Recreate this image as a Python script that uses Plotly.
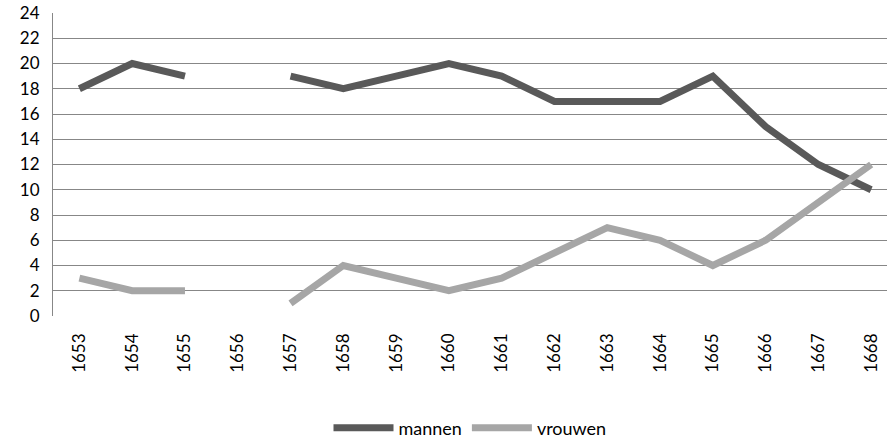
import plotly.graph_objects as go

years = ["1653","1654","1655","1656","1657","1658","1659","1660","1661","1662","1663","1664","1665","1666","1667","1668"]
mannen = [18, 20, 19, None, 19, 18, 19, 20, 19, 17, 17, 17, 19, 15, 12, 10]
vrouwen = [3, 2, 2, None, 1, 4, 3, 2, 3, 5, 7, 6, 4, 6, 9, 12]
yticks = list(range(0, 25, 2))

font = "Lato, Open Sans, sans-serif"

fig = go.Figure()
fig.add_trace(go.Scatter(x=years, y=mannen, name="mannen", mode="lines",
                         line=dict(color="#595959", width=7), connectgaps=False))
fig.add_trace(go.Scatter(x=years, y=vrouwen, name="vrouwen", mode="lines",
                         line=dict(color="#a6a6a6", width=7), connectgaps=False))

fig.update_layout(
    width=887, height=439,
    margin=dict(l=53, r=0, t=13, b=123, autoexpand=False),
    paper_bgcolor="white", plot_bgcolor="white",
    font=dict(family=font, size=17, color="#000000"),
    showlegend=True,
    legend=dict(orientation="h", x=0.5, xanchor="center", y=-0.37, yanchor="middle",
                font=dict(size=18), itemwidth=60, traceorder="normal"),
    xaxis=dict(type="category", range=[-0.5, 15.3], tickangle=-90,
               showgrid=False, ticks="", showline=False, zeroline=False,
               ticklabelstandoff=13, tickfont=dict(size=17)),
    yaxis=dict(range=[0, 24], tickvals=yticks, showgrid=True, gridcolor="#878787",
               gridwidth=1, showline=True, linecolor="#878787", linewidth=1,
               zeroline=False, ticks="", ticklabelstandoff=9, tickfont=dict(size=17)),
)

fig.write_html("out.html", config={"displayModeBar": False},
               post_script="document.body.style.margin='0';document.body.style.overflow='hidden';")
